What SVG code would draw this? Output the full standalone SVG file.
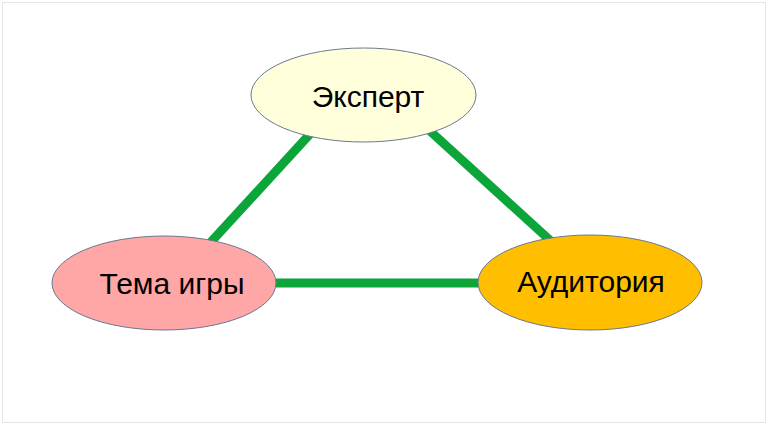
<svg xmlns="http://www.w3.org/2000/svg" width="768" height="425" viewBox="0 0 768 425">
<style>
.node{stroke:#6b7890;stroke-width:1}
.lbl{font-family:"Liberation Sans",Arial,sans-serif;font-size:30px;fill:#000;text-anchor:middle}
.edge{stroke:#0ca53a;stroke-width:9;fill:none}
</style>
<rect x="0" y="0" width="768" height="425" fill="#fff"/>
<rect x="2.5" y="2.5" width="763" height="420" fill="none" stroke="#e6e6e6" stroke-width="1"/>
<g id="connectors">
<line class="edge" x1="310" y1="134" x2="210" y2="243"/>
<line class="edge" x1="430" y1="131" x2="553" y2="243"/>
<line class="edge" x1="274" y1="283" x2="480" y2="283"/>
</g>
<g id="node-expert">
<ellipse class="node" cx="363.5" cy="95" rx="112.5" ry="47" fill="#ffffdc"/>
<text class="lbl" x="368" y="107">Эксперт</text>
</g>
<g id="node-tema">
<ellipse class="node" cx="164" cy="283" rx="112" ry="47" fill="#ffa6a6"/>
<text class="lbl" x="172" y="294">Тема игры</text>
</g>
<g id="node-auditoria">
<ellipse class="node" cx="590" cy="282.5" rx="112" ry="47.5" fill="#ffbf00"/>
<text class="lbl" x="591" y="292">Аудитория</text>
</g>
</svg>
